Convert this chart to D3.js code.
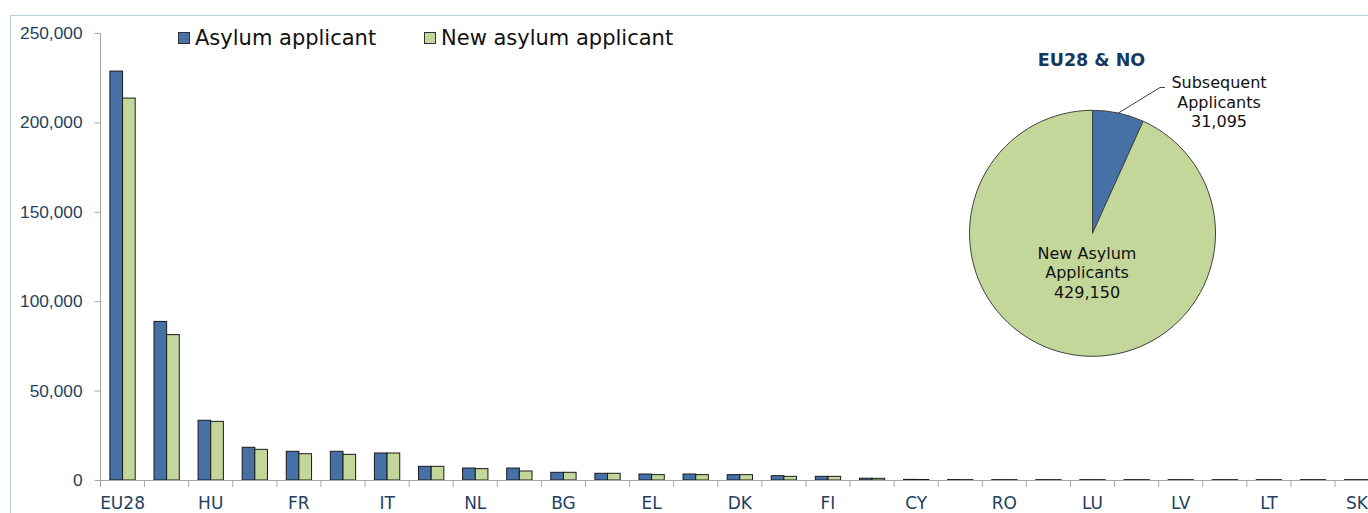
<!DOCTYPE html>
<meta charset="utf-8">
<head>
<script src="https://d3js.org/d3.v7.min.js"></script>
</head>
<style>
    html, body { margin: 0; padding: 0; background: white; overflow: hidden; }
    svg { display: block; font-family: "DejaVu Sans", Verdana, sans-serif; }
    .axis path, .axis line { stroke: #a6a6a6; }
    .axis text { fill: #243f60; }
</style>
<body>
<div id="chart"></div>
<script>

// countries (labels shown every second one, as in the original)
var countries = ["EU28", "DE", "HU", "SE", "FR", "AT", "IT", "UK", "NL", "BE",
                 "BG", "PL", "EL", "NO", "DK", "ES", "FI", "IE", "CY", "MT",
                 "RO", "PT", "LU", "CZ", "LV", "SI", "LT", "HR", "SK"];
var asylum = [228700, 88700, 33400, 18300, 16050, 16050, 15100, 7650, 6700, 6700,
              4300, 3750, 3350, 3350, 3000, 2400, 2050, 1000, 350, 250,
              200, 200, 200, 200, 200, 200, 200, 200, 200];
var newAsylum = [213600, 81300, 32800, 17150, 14700, 14350, 15100, 7650, 6350, 5050,
                 4300, 3750, 3000, 3000, 3000, 2050, 2050, 950, 300, 200,
                 200, 200, 200, 200, 200, 200, 200, 200, 200];
var seriesNames = ["Asylum applicant", "New asylum applicant"];
var yTicks = [0, 50000, 100000, 150000, 200000, 250000];

var pieLabels = ["Subsequent Applicants", "New Asylum Applicants"];
var pieValues = [31095, 429150];
var pieTitle = "EU28 & NO";

var colors = ["#4571a7", "#c4d79b"];

var W = 1368, H = 513;
var svg = d3.select("#chart").append("svg")
    .attr("width", W).attr("height", H);

// chart area border
svg.append("rect")
    .attr("x", 10.5).attr("y", 15.5)
    .attr("width", W + 20).attr("height", H + 20)
    .attr("fill", "white").attr("stroke", "#b9cde5");

var x0 = 100.5, yTop = 33, yBottom = 480;
var x = d3.scaleBand().domain(countries)
    .range([x0, x0 + countries.length * 44.09])
    .paddingInner(0.426).paddingOuter(0.213);
var xs = d3.scaleBand().domain([0, 1]).range([0, x.bandwidth()]);
var y = d3.scaleLinear().domain([0, 250000]).range([yBottom, yTop]);

// y axis
var yAxis = svg.append("g").attr("class", "axis")
    .attr("transform", "translate(" + x0 + ",0)")
    .call(d3.axisLeft(y).tickValues(yTicks).tickSize(6).tickPadding(12)
        .tickFormat(d3.format(",")));
yAxis.select(".domain").attr("d", "M0," + yTop + "V" + yBottom);
yAxis.selectAll("text").style("font-size", "17.3px");

// bars
var data = countries.map(function(c, i) { return {c: c, v: [asylum[i], newAsylum[i]]}; });
var groups = svg.append("g").selectAll("g").data(data).enter().append("g")
    .attr("transform", function(d) { return "translate(" + x(d.c) + ",0)"; });
groups.selectAll("rect").data(function(d) { return d.v; }).enter().append("rect")
    .attr("x", function(d, i) { return xs(i); })
    .attr("y", function(d) { return y(d); })
    .attr("width", xs.bandwidth())
    .attr("height", function(d) { return yBottom - y(d); })
    .attr("fill", function(d, i) { return colors[i]; })
    .attr("stroke", "#1a1a1a").attr("stroke-width", 1);

// x axis (ticks between categories)
var step = x.step();
var xAxis = svg.append("g").attr("class", "axis")
    .attr("transform", "translate(0," + yBottom + ")");
xAxis.append("line").attr("x1", x0).attr("x2", W + 20).attr("y1", 0.5).attr("y2", 0.5);
xAxis.selectAll(".tk").data(d3.range(countries.length + 1)).enter().append("line")
    .attr("x1", function(i) { return x0 + i * step; })
    .attr("x2", function(i) { return x0 + i * step; })
    .attr("y1", 0).attr("y2", 7);
xAxis.selectAll("text").data(countries.filter(function(c, i) { return i % 2 === 0; }))
    .enter().append("text")
    .attr("x", function(c) { return x(c) + x.bandwidth() / 2; })
    .attr("y", 29)
    .attr("text-anchor", "middle")
    .style("font-size", "17px")
    .text(function(c) { return c; });

// legend
var legend = svg.append("g").selectAll("g").data(seriesNames).enter().append("g")
    .attr("transform", function(d, i) { return "translate(" + (178 + i * 246) + ",32)"; });
legend.append("rect").attr("x", 0.5).attr("y", 0.5).attr("width", 11).attr("height", 11)
    .attr("fill", function(d, i) { return colors[i]; })
    .attr("stroke", "#333");
legend.append("text").attr("x", 17).attr("y", 13)
    .style("font-size", "21px").attr("fill", "#111")
    .text(function(d) { return d; });

// pie
var cx = 1092.5, cy = 233.3, r = 123;
var pie = d3.pie().sort(null)(pieValues);
var arc = d3.arc().innerRadius(0).outerRadius(r);
var pg = svg.append("g").attr("transform", "translate(" + cx + "," + cy + ")");
pg.selectAll("path").data(pie).enter().append("path")
    .attr("d", arc)
    .attr("fill", function(d, i) { return colors[i]; })
    .attr("stroke", "#404040").attr("stroke-width", 1);

svg.append("text").attr("x", cx - 1).attr("y", 66)
    .attr("text-anchor", "middle")
    .style("font-size", "17.5px").style("font-weight", "bold")
    .attr("fill", "#17375e").text(pieTitle);

// leader line for the small slice
var a0 = (pie[0].startAngle + pie[0].endAngle) / 2;
var px = cx + Math.sin(a0) * r, py = cy - Math.cos(a0) * r;
svg.append("path")
    .attr("d", "M" + px + "," + py + "L1160,87.5H1165")
    .attr("fill", "none").attr("stroke", "#404040");

function label(lines, lx, ly) {
    var t = svg.append("text").attr("text-anchor", "middle")
        .style("font-size", "16px").attr("fill", "#111");
    lines.forEach(function(s, i) {
        t.append("tspan").attr("x", lx).attr("y", ly + i * 19.5).text(s);
    });
}
var fmt = d3.format(",");
label(["Subsequent", "Applicants", fmt(pieValues[0])], 1219, 88);
label(["New Asylum", "Applicants", fmt(pieValues[1])], 1087, 258.5);

</script>
</body>
